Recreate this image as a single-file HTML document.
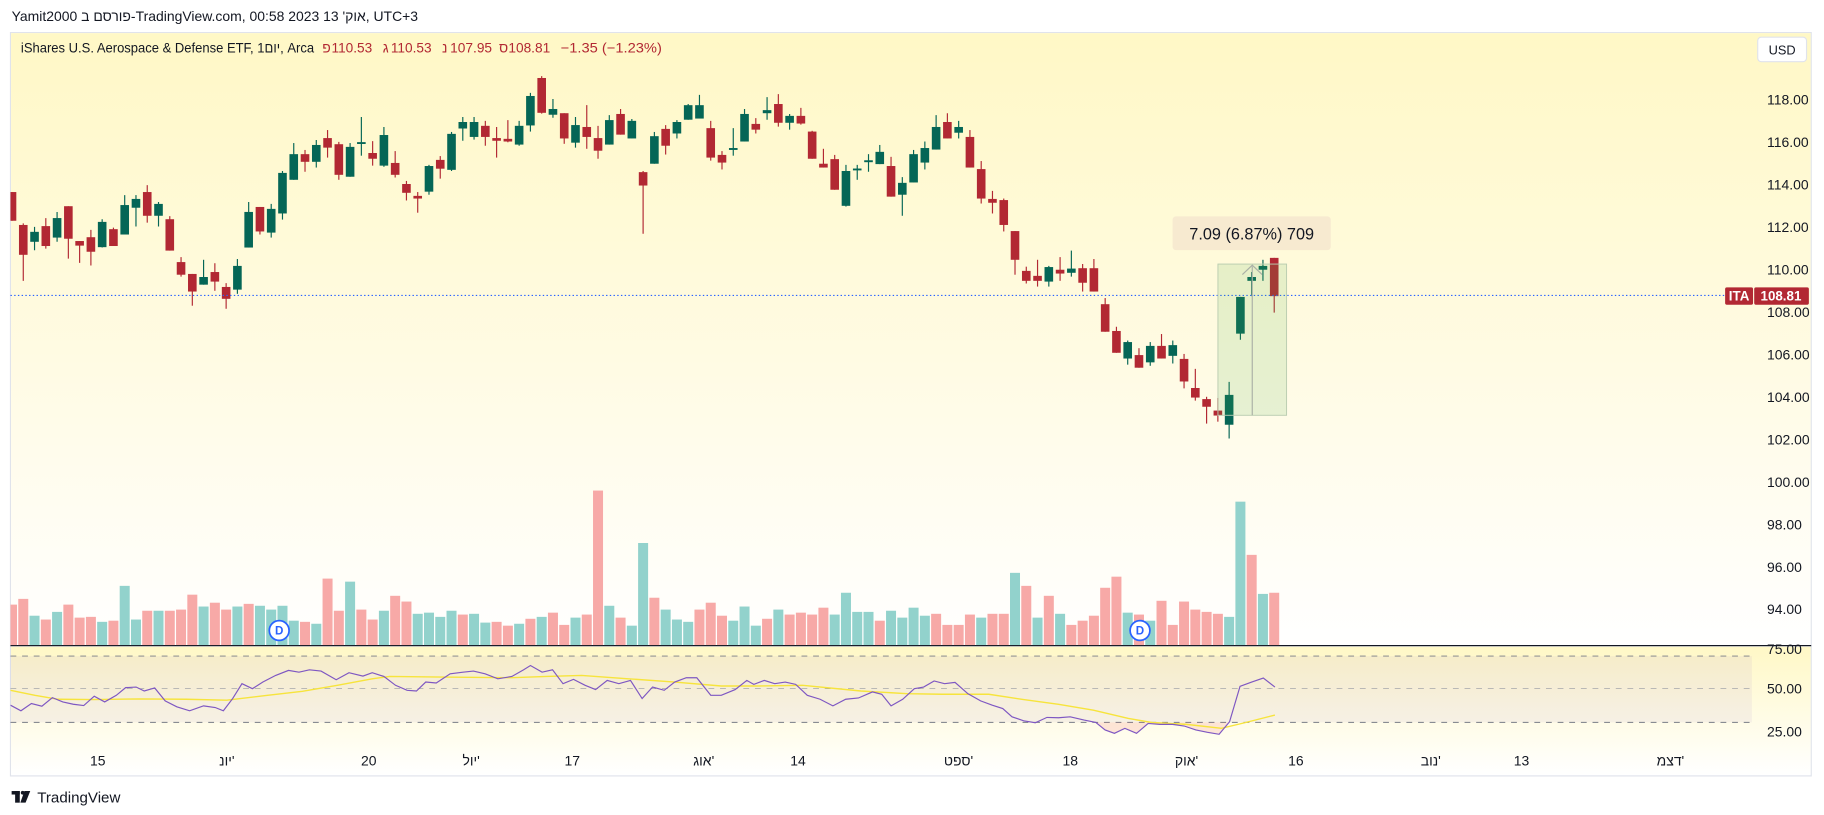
<!DOCTYPE html>
<html><head><meta charset="utf-8"><style>
html,body{margin:0;padding:0;background:#fff;width:1824px;height:815px;overflow:hidden}
svg{display:block}
text{font-family:"Liberation Sans","Noto Sans CJK JP",sans-serif}
</style></head><body>
<svg id="s" width="1824" height="815" viewBox="0 0 1568 700.6" preserveAspectRatio="none" xmlns="http://www.w3.org/2000/svg">
<defs>
<linearGradient id="bg" x1="0" y1="0" x2="0" y2="1">
<stop offset="0" stop-color="#fff8c6"/><stop offset="0.55" stop-color="#fffbe4"/><stop offset="1" stop-color="#ffffff"/></linearGradient>
<linearGradient id="bg2" x1="0" y1="0" x2="0" y2="1">
<stop offset="0" stop-color="#fff8c6"/><stop offset="1" stop-color="#ffffff"/></linearGradient>
<clipPath id="cp"><rect x="9" y="29" width="1497" height="610"/></clipPath>
</defs>
<rect x="0" y="0" width="1568" height="701" fill="#fff"/>
<text x="10" y="18" font-size="12" fill="#131722">Yamit2000 פורסם ב-TradingView.com, 00:58 2023 אוק' 13, UTC+3</text>
<rect x="9" y="28" width="1548" height="639" fill="#fff" stroke="#e0e3eb" stroke-width="1"/>
<rect x="9.5" y="28.5" width="1547" height="526.5" fill="url(#bg)"/>
<rect x="9.5" y="556" width="1547" height="110" fill="url(#bg2)"/>
<rect x="9" y="564" width="1497" height="57" fill="#7e57c2" fill-opacity="0.07"/>
<line x1="9" y1="564" x2="1506" y2="564" stroke="#787b86" stroke-dasharray="5,5" stroke-width="0.8"/>
<line x1="9" y1="592" x2="1506" y2="592" stroke="#9598a1" stroke-dasharray="5,5" stroke-width="0.6"/>
<line x1="9" y1="621" x2="1506" y2="621" stroke="#787b86" stroke-dasharray="5,5" stroke-width="0.8"/>
<line x1="9" y1="555" x2="1557" y2="555" stroke="#131722" stroke-width="1"/>
<g id="vol" clip-path="url(#cp)"></g>
<g id="cand" clip-path="url(#cp)"></g>
<line x1="9" y1="254" x2="1483" y2="254" stroke="#2962ff" stroke-dasharray="1.2,2" stroke-width="1"/>
<rect x="1047" y="227" width="59" height="130" fill="#4caf50" fill-opacity="0.14" stroke="#b9ccb0" stroke-width="0.8"/>
<line x1="1076.5" y1="229" x2="1076.5" y2="357" stroke="#aab0a6" stroke-width="1"/>
<polyline points="1068,236 1076.5,228 1085,236" fill="none" stroke="#aab0a6" stroke-width="1"/>
<rect x="1008" y="186" width="136" height="29" rx="3" fill="#f7ead0"/>
<text x="1076" y="206" font-size="14" fill="#131722" text-anchor="middle">7.09 (6.87%) 709</text>
<g id="rsi" clip-path="url(#cp)"></g>
<g font-size="10" font-weight="bold" fill="#2962ff" text-anchor="middle">
<circle cx="240" cy="542" r="8.5" fill="#fff" stroke="#2962ff" stroke-width="1.5"/><text x="240" y="545.5">D</text>
<circle cx="980" cy="542" r="8.5" fill="#fff" stroke="#2962ff" stroke-width="1.5"/><text x="980" y="545.5">D</text>
</g>
<text x="18" y="45" font-size="12" fill="#131722" textLength="252" lengthAdjust="spacingAndGlyphs">iShares U.S. Aerospace &amp; Defense ETF, 1יום, Arca</text>
<g font-size="12" fill="#b22833">
<text x="277" y="45">פ</text><text x="285" y="45" textLength="35" lengthAdjust="spacingAndGlyphs">110.53</text>
<text x="329" y="45">ג</text><text x="336" y="45" textLength="35" lengthAdjust="spacingAndGlyphs">110.53</text>
<text x="380" y="45">נ</text><text x="387" y="45" textLength="36" lengthAdjust="spacingAndGlyphs">107.95</text>
<text x="429" y="45">ס</text><text x="437" y="45" textLength="36" lengthAdjust="spacingAndGlyphs">108.81</text>
<text x="482" y="45" textLength="87" lengthAdjust="spacingAndGlyphs">−1.35 (−1.23%)</text>
</g>
<rect x="1511" y="32" width="42" height="21" rx="3" fill="#fff" stroke="#e0e3eb"/>
<text x="1532" y="47" font-size="11" fill="#131722" text-anchor="middle">USD</text>
<g font-size="12" fill="#131722">
<text x="1519" y="90">118.00</text><text x="1519" y="126.5">116.00</text><text x="1519" y="163">114.00</text>
<text x="1519" y="199.5">112.00</text><text x="1519" y="236">110.00</text><text x="1519" y="272.5">108.00</text>
<text x="1519" y="309">106.00</text><text x="1519" y="345.5">104.00</text><text x="1519" y="382">102.00</text>
<text x="1519" y="418.5">100.00</text><text x="1519" y="455">98.00</text><text x="1519" y="491.5">96.00</text>
<text x="1519" y="528">94.00</text>
<text x="1519" y="562">75.00</text><text x="1519" y="596">50.00</text><text x="1519" y="633">25.00</text>
</g>
<rect x="1483" y="247" width="24" height="15" rx="1.5" fill="#b22833"/>
<rect x="1508" y="247" width="47" height="15" rx="1.5" fill="#b22833"/>
<text x="1495" y="258.5" font-size="11.5" fill="#fff" text-anchor="middle" font-weight="bold">ITA</text>
<text x="1531" y="258.5" font-size="11.5" fill="#fff" text-anchor="middle" font-weight="bold">108.81</text>
<g font-size="12" fill="#131722" text-anchor="middle">
<text x="84" y="658">15</text><text x="195" y="658">יונ'</text><text x="317" y="658">20</text>
<text x="405" y="658">יול'</text><text x="492" y="658">17</text><text x="605" y="658">אוג'</text>
<text x="686" y="658">14</text><text x="824" y="658">ספט'</text><text x="920" y="658">18</text>
<text x="1020" y="658">אוק'</text><text x="1114" y="658">16</text><text x="1230" y="658">נוב'</text>
<text x="1308" y="658">13</text><text x="1436" y="658">דצמ'</text>
</g>
<g fill="#131722">
<rect x="10" y="680" width="7" height="3"/><rect x="13" y="680" width="4" height="10"/>
<circle cx="19.5" cy="681.5" r="1.6"/><polygon points="21,680 26,680 22,690 17.5,690"/>
</g>
<text x="32" y="690" font-size="13" fill="#131722">TradingView</text>
</svg>
<script>
var C=[
['r',345,420,345,420],['r',431,509,427,577],['g',449,475,436,497],['r',434,486,413,493],['g',413,464,397,475],
['r',382,467,382,519],['r',473,485,473,530],['r',463,501,444,537],['g',423,489,416,490],['r',442,486,438,486],
['g',379,456,353,456],['g',363,386,353,435],['r',345,407,327,425],['g',376,407,371,435],['r',416,498,408,498],
['r',528,561,515,566],['r',559,605,559,642],['g',567,587,522,587],['r',554,579,531,603],['r',593,624,583,650],
['g',538,600,520,611],['g',397,490,371,490],['r',384,448,384,456],['g',389,451,376,464],['g',295,401,290,417],
['g',246,313,217,313],['r',246,266,235,292],['g',222,266,209,281],['r',204,229,183,255],['r',220,300,214,313],
['g',227,305,217,305],['g',217,221,149,250],['r',243,258,212,276],['g',196,276,175,279],['r',269,300,238,307],
['r',324,347,316,367],['r',355,362,345,399],['g',277,344,274,352],['r',261,284,251,310],
['g',193,287,188,290],['g',162,179,149,211],['g',162,201,149,208],['r',172,201,159,224],['r',204,211,175,255],
['r',206,213,157,215],['g',172,221,159,224],['g',94,171,86,187],['r',47,138,42,140],['g',128,143,102,151],
['r',139,205,139,219],['g',170,216,149,229],['r',175,201,118,232],['r',204,237,172,258],['g',157,221,144,221],
['r',141,195,128,195],['g',159,205,154,205],['r',293,328,290,454],['g',199,271,188,271],['r',180,224,170,247],
['g',162,192,157,205],['g',118,156,115,156],['g',118,153,91,153],['r',178,255,159,263],['r',248,268,238,286],
['g',230,235,178,250],['g',141,213,128,213],['r',167,182,152,192],['g',131,139,97,156],['r',115,164,89,174],
['g',146,164,141,182],['r',146,166,125,169],['r',187,258,185,258],['r',271,281,232,281],['r',259,339,248,339],
['g',290,381,274,383],['g',286,290,274,313],['g',262,267,246,292],
['g',240,272,222,272],['r',277,357,253,357],['g',321,352,306,407],['g',246,320,235,320],['g',230,268,213,286],
['g',175,234,144,234],['r',162,205,139,205],['g',175,190,159,205],['r',201,281,183,281],['r',285,362,264,375],
['r',363,373,342,401],['r',366,431,362,448],['r',447,522,447,561],['r',551,577,540,584],['r',564,577,522,592],
['g',541,579,538,592],['r',548,558,515,577],['g',545,556,498,566],['r',544,582,533,605],['r',544,605,520,605],
['r',638,710,622,710],['r',708,765,697,765],['g',737,780,733,796],['r',771,804,753,804],['g',747,790,737,799],
['r',747,780,716,780],['g',745,773,733,793],['r',781,840,768,858],['r',857,882,807,890],['r',886,906,880,950],
['r',916,929,883,945],['g',875,953,841,989],['g',619,715,619,731],['g',567,577,554,617],['g',538,548,522,577],
['r',517,617,517,660]];
var V=[1423,1408,1452,1462,1442,1423,1457,1455,1468,1465,1374,1462,1439,1439,1439,1436,1397,1428,1418,1436,1428,1421,1426,1436,1426,1465,1468,1473,1355,1439,1363,1436,1462,1439,1400,1415,1447,1444,1455,
1439,1449,1447,1470,1468,1478,1473,1460,1455,1444,1476,1457,1449,1125,1426,1457,1478,1262,1405,1436,1462,1468,1436,1418,1452,1465,1428,1478,1460,1436,1449,1444,1449,1431,1449,1392,1442,1442,
1465,1439,1457,1431,1452,1447,1476,1476,1449,1457,1447,1447,1340,1374,1457,1400,1447,1476,1465,1452,1379,1350,1444,1449,1465,1413,1476,1415,1436,1442,1447,1455,1154,1293,1395,1392];
var VC="pptptppptpttptppptpptpttttptpptpptpptttp".slice(0,39)+"tpttpptptpptpptpttptttppptttptppppttt".slice(0,38)+"tpttttpppptpptptptppppptptppppppttptp".slice(0,36);
var Y=function(z){return 51.58+z*0.329},X=function(i){return 10.32+i*9.688};
var ns="http://www.w3.org/2000/svg";
function el(g,t,a){var e=document.createElementNS(ns,t);for(var k in a)e.setAttribute(k,a[k]);document.getElementById(g).appendChild(e);return e}
for(var i=0;i<V.length;i++){var y=Y(V[i]);el('vol','rect',{x:X(i)-4.3,y:y,width:8.6,height:554.5-y,fill:VC[i]=='t'?'#92d2cc':'#f7a9a7'})}
for(var i=0;i<C.length;i++){var c=C[i],col=c[0]=='g'?'#056656':'#b22833',x=X(i);
el('cand','line',{x1:x,x2:x,y1:Y(c[3]),y2:Y(c[4]),stroke:col,'stroke-width':1});
var t=Y(c[1]),b=Y(c[2]);if(b-t<1.6){t-=0.8;b=t+1.6}
el('cand','rect',{x:x-3.7,y:t,width:7.4,height:b-t,fill:col})}
var R=[[9,255],[18,272],[27,250],[36,258],[45,232],[54,245],[63,252],[72,256],[81,228],[90,245],[100,225],[108,202],[117,200],[124,212],[133,203],[142,242],[152,260],[163,272],[175,257],[185,262],[192,272],[200,235],[208,190],[217,205],[226,185],[237,165],[248,150],[257,155],[266,148],[276,152],[289,178],[300,157],[312,167],[320,157],[330,168],[340,195],[350,210],[358,212],[366,185],[375,188],[387,160],[398,155],[407,152],[417,160],[428,175],[440,168],[450,148],[456,135],[466,155],[475,148],[484,190],[493,177],[503,195],[512,208],[522,180],[532,190],[542,180],[552,235],[561,200],[571,210],[580,185],[590,172],[599,172],[611,225],[620,225],[632,208],[642,180],[648,192],[657,180],[666,190],[675,185],[684,192],[694,225],[705,237],[716,257],[727,237],[738,233],[750,215],[758,222],[766,257],[776,237],[786,205],[794,200],[803,182],[812,190],[821,186],[832,220],[843,242],[853,255],[862,265],[870,290],[880,302],[890,308],[900,292],[910,293],[920,290],[932,300],[942,307],[950,330],[958,340],[967,325],[977,340],[987,310],[997,313],[1008,313],[1018,318],[1028,330],[1038,337],[1048,343],[1057,305],[1066,198],[1076,185],[1086,173],[1096,200]];
var M=[[9,210],[30,225],[50,237],[80,238],[120,236],[160,237],[195,240],[230,225],[260,213],[290,195],[320,175],[335,168],[380,170],[440,172],[470,168],[500,165],[540,175],[580,185],[620,197],[650,197],[690,195],[740,212],[780,220],[810,222],[850,222],[880,238],[910,252],[940,270],[970,295],[990,307],[1020,313],[1050,325],[1070,308],[1096,285]];
var RY=function(z){return 555+(z-75)*0.2845};
function pts(a){return a.map(function(p){return p[0]+','+RY(p[1]).toFixed(1)}).join(' ')}
el('rsi','polygon',{points:'940,621 '+pts(R.filter(function(p){return p[0]>=942&&p[0]<=1000}))+' 1000,621',fill:'#f23645','fill-opacity':0.12});
el('rsi','polygon',{points:'1012,621 '+pts(R.filter(function(p){return p[0]>=1018&&p[0]<=1057}))+' 1057,621',fill:'#f23645','fill-opacity':0.12});
el('rsi','polyline',{points:pts(M),fill:'none',stroke:'#f7e43c','stroke-width':1.2});
el('rsi','polyline',{points:pts(R),fill:'none',stroke:'#7e57c2','stroke-width':1});
</script>
</body></html>
